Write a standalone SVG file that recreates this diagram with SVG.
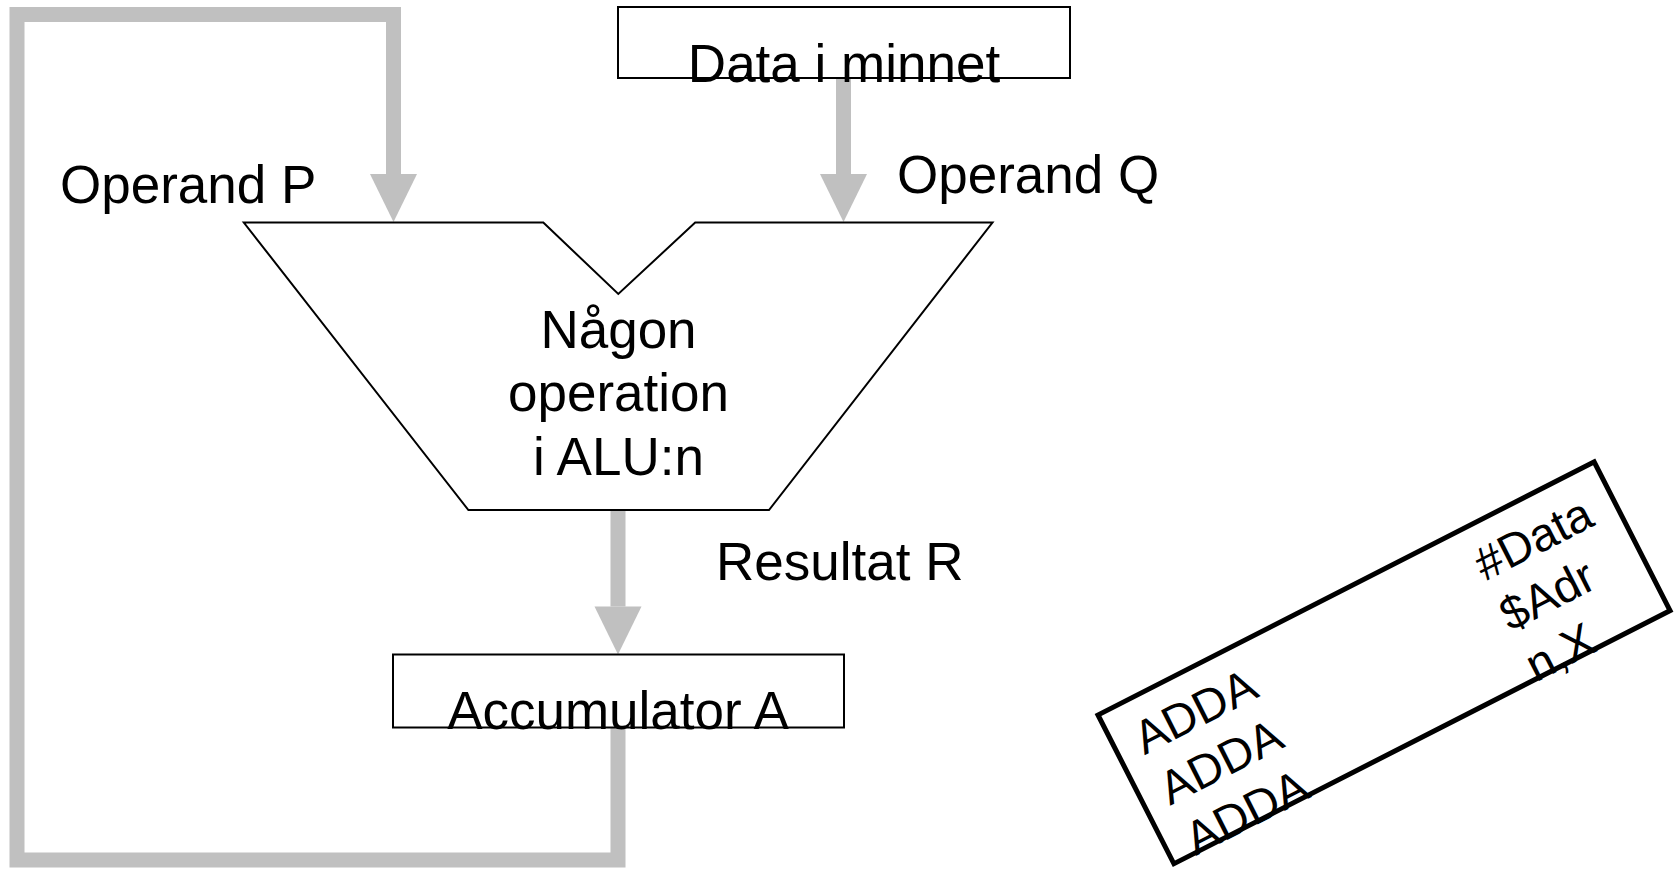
<svg xmlns="http://www.w3.org/2000/svg" width="1677" height="870" viewBox="0 0 1677 870">
  <style>
    .label { font-family: "Liberation Sans", Arial, sans-serif; font-size: 53px; fill: #000; }
    .mid { text-anchor: middle; }
    .code { font-family: "Liberation Sans", Arial, sans-serif; font-size: 47px; fill: #000; }
    .box { fill: #fff; stroke: #000; stroke-width: 2; }
    .flow { fill: none; stroke: #C0C0C0; stroke-width: 15; stroke-linejoin: miter; }
  </style>
  <defs>
    <marker id="head" markerUnits="userSpaceOnUse" markerWidth="48" markerHeight="48" refX="0" refY="23.5" orient="auto" overflow="visible">
      <path d="M0,0 L48,23.5 L0,47 Z" fill="#C0C0C0"/>
    </marker>
  </defs>

  <rect width="1677" height="870" fill="#fff"/>

  <!-- data paths -->
  <g id="connectors">
    <!-- memory to operand Q -->
    <path class="flow" d="M843.5,78 V174" marker-end="url(#head)"/>
    <!-- ALU result to accumulator -->
    <path class="flow" d="M618,510 V606.5" marker-end="url(#head)"/>
    <!-- accumulator fed back as operand P -->
    <path class="flow" d="M618,727 V860 H17 V14.5 H393.5 V174" marker-end="url(#head)"/>
  </g>

  <g id="memory">
    <rect class="box" x="618" y="7" width="452" height="71"/>
    <text class="label mid" x="844" y="81.5">Data i minnet</text>
  </g>

  <g id="alu">
    <polygon class="box" points="243.8,222.5 543.3,222.5 618.3,294 695.2,222.5 992.5,222.5 769,510 468.4,510"/>
    <text class="label mid" x="618.5" y="347.5">Någon</text>
    <text class="label mid" x="618.5" y="411">operation</text>
    <text class="label mid" x="618.5" y="474.5">i ALU:n</text>
  </g>

  <g id="accumulator">
    <rect class="box" x="393" y="654.5" width="451" height="73"/>
    <text class="label mid" x="618" y="728.5">Accumulator A</text>
  </g>

  <g id="labels">
    <text class="label" x="60" y="203">Operand P</text>
    <text class="label" x="897" y="192.5">Operand Q</text>
    <text class="label" x="716" y="580">Resultat R</text>
  </g>

  <g id="instructions" transform="translate(1098,715) rotate(-27.03)">
    <rect x="0" y="0" width="557" height="167" fill="none" stroke="#000" stroke-width="5"/>
    <text class="code" x="23" y="57">ADDA</text>
    <text class="code" x="23" y="113.5">ADDA</text>
    <text class="code" x="23" y="170">ADDA</text>
    <text class="code" x="405" y="57">#Data</text>
    <text class="code" x="405" y="113.5">$Adr</text>
    <text class="code" x="405" y="170">n,X</text>
  </g>
</svg>
